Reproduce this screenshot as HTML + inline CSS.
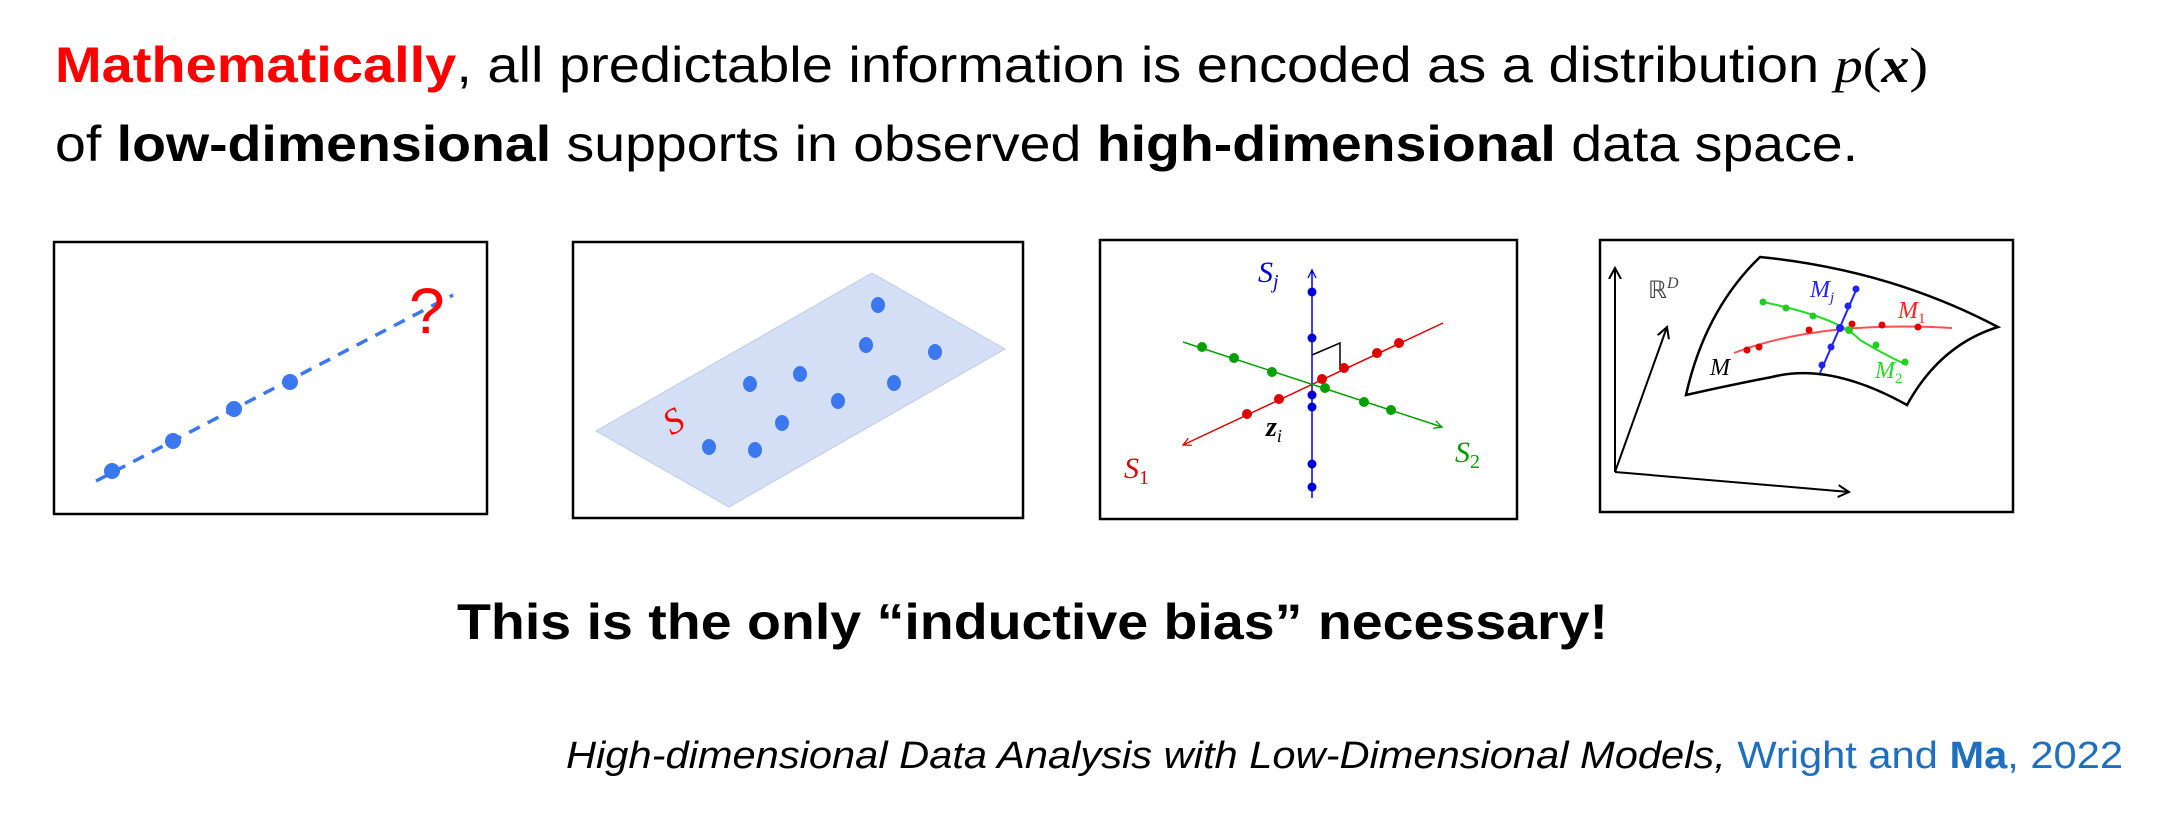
<!DOCTYPE html>
<html><head><meta charset="utf-8"><style>
html,body{margin:0;padding:0;background:#fff;}
svg{display:block;}
</style></head><body>
<svg width="2172" height="824" viewBox="0 0 2172 824" xmlns="http://www.w3.org/2000/svg" font-family="Liberation Sans, sans-serif">
<defs>
<marker id="ab" markerWidth="10" markerHeight="10" refX="8" refY="5" orient="auto" markerUnits="userSpaceOnUse"><path d="M0,1 L8,5 L0,9" fill="none" stroke="#0000dd" stroke-width="1.3"/></marker>
<marker id="ar" markerWidth="10" markerHeight="10" refX="8" refY="5" orient="auto" markerUnits="userSpaceOnUse"><path d="M0,1 L8,5 L0,9" fill="none" stroke="#e00000" stroke-width="1.3"/></marker>
<marker id="ag" markerWidth="10" markerHeight="10" refX="8" refY="5" orient="auto" markerUnits="userSpaceOnUse"><path d="M0,1 L8,5 L0,9" fill="none" stroke="#00a000" stroke-width="1.3"/></marker>
<marker id="ak" markerWidth="14" markerHeight="14" refX="11" refY="7" orient="auto" markerUnits="userSpaceOnUse"><path d="M0,1 L11,7 L0,13" fill="none" stroke="#000" stroke-width="2"/></marker>
</defs>
<!-- Title -->
<text x="55" y="82" font-size="50" textLength="1873" lengthAdjust="spacingAndGlyphs"><tspan fill="#ff0000" font-weight="bold">Mathematically</tspan>, all predictable information is encoded as a distribution <tspan font-family="Liberation Serif, serif" font-style="italic">p</tspan><tspan font-family="Liberation Serif, serif">(</tspan><tspan font-family="Liberation Serif, serif" font-style="italic" font-weight="bold">x</tspan><tspan font-family="Liberation Serif, serif">)</tspan></text>
<text x="55" y="161" font-size="50" textLength="1803" lengthAdjust="spacingAndGlyphs">of <tspan font-weight="bold">low-dimensional</tspan> supports in observed <tspan font-weight="bold">high-dimensional</tspan> data space.</text>

<!-- Box 1 -->
<rect x="54" y="242" width="433" height="272" fill="none" stroke="#000" stroke-width="2.5"/>
<line x1="96" y1="481" x2="453" y2="295" stroke="#3b78f0" stroke-width="3.5" stroke-dasharray="12,9"/>
<g fill="#3b78f0"><ellipse cx="112" cy="471" rx="8" ry="8"/><ellipse cx="173" cy="441" rx="8" ry="8"/><ellipse cx="234" cy="409" rx="8" ry="8"/><ellipse cx="290" cy="382" rx="8" ry="8"/></g>
<text x="409" y="333" font-size="64" fill="#ff0000">?</text>

<!-- Box 2 -->
<rect x="573" y="242" width="450" height="276" fill="none" stroke="#000" stroke-width="2.5"/>
<polygon points="872,273 1005,349 729,507 596,431" fill="#d4dff5" stroke="#c0cce6" stroke-width="1"/>
<g fill="#3b78f0">
<ellipse cx="878" cy="305" rx="7" ry="8"/><ellipse cx="866" cy="345" rx="7" ry="8"/><ellipse cx="935" cy="352" rx="7" ry="8"/><ellipse cx="800" cy="374" rx="7" ry="8"/><ellipse cx="750" cy="384" rx="7" ry="8"/><ellipse cx="894" cy="383" rx="7" ry="8"/><ellipse cx="838" cy="401" rx="7" ry="8"/><ellipse cx="782" cy="423" rx="7" ry="8"/><ellipse cx="709" cy="447" rx="7" ry="8"/><ellipse cx="755" cy="450" rx="7" ry="8"/></g>
<text x="664" y="432" font-size="36" fill="#ff0000" font-family="Liberation Serif, serif" font-style="italic" transform="rotate(-30 675 420)">S</text>

<!-- Box 3 -->
<rect x="1100" y="240" width="417" height="279" fill="none" stroke="#000" stroke-width="2.5"/>
<line x1="1312" y1="498" x2="1312" y2="270" stroke="#0000dd" stroke-width="1.5" marker-end="url(#ab)"/>
<line x1="1443" y1="323" x2="1183" y2="445" stroke="#e00000" stroke-width="1.5" marker-end="url(#ar)"/>
<line x1="1183" y1="342" x2="1442" y2="427" stroke="#00a000" stroke-width="1.5" marker-end="url(#ag)"/>
<polyline points="1312,355 1340,343 1340,370" fill="none" stroke="#000" stroke-width="1.5"/>
<g fill="#0000dd"><circle cx="1312" cy="292" r="4.5"/><circle cx="1312" cy="338" r="4.5"/><circle cx="1312" cy="395" r="4.5"/><circle cx="1312" cy="407" r="4.5"/><circle cx="1312" cy="464" r="4.5"/><circle cx="1312" cy="487" r="4.5"/></g>
<g fill="#e00000"><circle cx="1399" cy="343" r="5"/><circle cx="1377" cy="353" r="5"/><circle cx="1344" cy="368" r="5"/><circle cx="1322" cy="379" r="5"/><circle cx="1279" cy="399" r="5"/><circle cx="1247" cy="414" r="5"/></g>
<g fill="#00a000"><circle cx="1202" cy="347" r="5"/><circle cx="1234" cy="358" r="5"/><circle cx="1272" cy="372" r="5"/><circle cx="1325" cy="388" r="5"/><circle cx="1364" cy="402" r="5"/><circle cx="1391" cy="410" r="5"/></g>
<g font-family="Liberation Serif, serif" font-style="italic" font-size="30">
<text x="1258" y="282" fill="#0000dd">S<tspan font-size="20" dy="6">j</tspan></text>
<text x="1124" y="478" fill="#e00000">S<tspan font-size="20" dy="6" font-style="normal">1</tspan></text>
<text x="1455" y="462" fill="#00a000">S<tspan font-size="20" dy="6" font-style="normal">2</tspan></text>
<text x="1266" y="436" fill="#000" font-weight="bold" font-size="28">z<tspan font-size="18" dy="6" font-weight="normal">i</tspan></text>
</g>

<!-- Box 4 -->
<rect x="1600" y="240" width="413" height="272" fill="none" stroke="#000" stroke-width="2.5"/>
<path d="M1760,257 Q1890,270 1998,327 Q1940,345 1907,405 Q1830,362 1772,377 Q1730,385 1686,395 Q1705,310 1760,257 Z" fill="none" stroke="#000" stroke-width="2.5"/>
<line x1="1615" y1="472" x2="1615" y2="268" stroke="#000" stroke-width="2" marker-end="url(#ak)"/>
<line x1="1615" y1="472" x2="1667" y2="327" stroke="#000" stroke-width="2" marker-end="url(#ak)"/>
<line x1="1615" y1="472" x2="1849" y2="492" stroke="#000" stroke-width="2" marker-end="url(#ak)"/>
<path d="M1734,353 Q1820,320 1952,328" fill="none" stroke="#ff5050" stroke-width="2"/>
<path d="M1763,302 Q1840,318 1860,340 Q1885,355 1907,365" fill="none" stroke="#22dd22" stroke-width="2"/>
<line x1="1857" y1="288" x2="1820" y2="373" stroke="#2222ff" stroke-width="2"/>
<g fill="#e00000"><circle cx="1747" cy="350" r="3.5"/><circle cx="1759" cy="347" r="3.5"/><circle cx="1809" cy="330" r="3.5"/><circle cx="1852" cy="324" r="3.5"/><circle cx="1882" cy="325" r="3.5"/><circle cx="1918" cy="327" r="3.5"/></g>
<g fill="#22cc22"><circle cx="1763" cy="302" r="3.5"/><circle cx="1786" cy="308" r="3.5"/><circle cx="1813" cy="316" r="3.5"/><circle cx="1849" cy="330" r="4"/><circle cx="1876" cy="345" r="3.5"/><circle cx="1905" cy="362" r="3.5"/></g>
<g fill="#2222ff"><circle cx="1856" cy="289" r="3.5"/><circle cx="1848" cy="306" r="3.5"/><circle cx="1840" cy="328" r="4"/><circle cx="1831" cy="347" r="3.5"/><circle cx="1822" cy="365" r="3.5"/></g>
<g font-family="Liberation Serif, serif" font-style="italic" font-size="24">
<text x="1648" y="298" fill="#444" font-style="normal">ℝ<tspan font-size="16" dy="-10" font-style="italic">D</tspan></text>
<text x="1810" y="297" fill="#2222ff">M<tspan font-size="15" dy="5">j</tspan></text>
<text x="1898" y="318" fill="#ff2222">M<tspan font-size="15" dy="5" font-style="normal">1</tspan></text>
<text x="1710" y="375" fill="#000">M</text>
<text x="1875" y="378" fill="#22dd22">M<tspan font-size="15" dy="5" font-style="normal">2</tspan></text>
</g>

<!-- Bottom -->
<text x="457" y="639" font-size="50" font-weight="bold" textLength="1151" lengthAdjust="spacingAndGlyphs">This is the only “inductive bias” necessary!</text>
<text x="566" y="768" font-size="38" font-style="italic" textLength="1557" lengthAdjust="spacingAndGlyphs">High-dimensional Data Analysis with Low-Dimensional Models, <tspan fill="#1f6fc0" font-style="normal">Wright and </tspan><tspan fill="#1f6fc0" font-style="normal" font-weight="bold">Ma</tspan><tspan fill="#1f6fc0" font-style="normal">, 2022</tspan></text>
</svg>
</body></html>
